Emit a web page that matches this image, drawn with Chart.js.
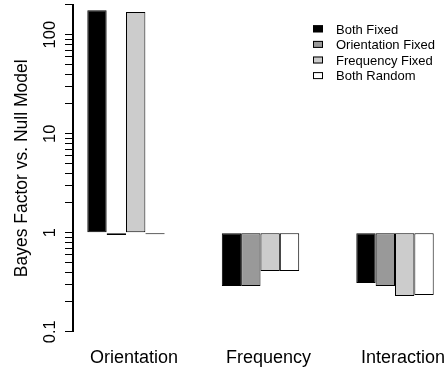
<!DOCTYPE html>
<html>
<head>
<meta charset="utf-8">
<script src="https://cdn.jsdelivr.net/npm/chart.js@4.4.1/dist/chart.umd.min.js"></script>
<style>
  html, body { margin: 0; padding: 0; background: #fff; }
  #wrap { width: 444px; height: 371px; }
</style>
</head>
<body>
<div id="wrap"><canvas id="bfChart"></canvas></div>
<script>
const categories = ['Orientation', 'Frequency', 'Interaction'];
const seriesNames = ['Both Fixed', 'Orientation Fixed', 'Frequency Fixed', 'Both Random'];
const bothFixed = [177, 0.29, 0.31];
const orientationFixed = [0.95, 0.29, 0.29];
const frequencyFixed = [170, 0.41, 0.23];
const bothRandom = [0.967, 0.41, 0.235];
const yTickLabels = [0.1, 1, 10, 100];
const seriesFills = ['#000000', '#999999', '#cccccc', '#ffffff'];

const FONT = "'Liberation Sans', Arial, Helvetica, sans-serif";
Chart.defaults.font.family = FONT;
Chart.defaults.color = '#000';

// minor + major log ticks: 1..9 in each decade, up to the axis top
const yMax = 200;
const yTicks = [];
[0.1, 1, 10, 100].forEach(d => {
  for (let k = 1; k <= 9; k++) {
    const v = +(d * k).toPrecision(3);
    if (v <= yMax) yTicks.push(v);
  }
});

// rotated y labels and the key in the top right corner
const axisText = {
  id: 'axisText',
  afterDraw(chart) {
    const { ctx, scales: { y } } = chart;
    ctx.save();
    ctx.fillStyle = '#000';
    ctx.font = `16.5px ${FONT}`;
    ctx.textAlign = 'center';
    ctx.textBaseline = 'alphabetic';
    yTickLabels.forEach(v => {
      ctx.save();
      ctx.translate(55, y.getPixelForValue(v));
      ctx.rotate(-Math.PI / 2);
      ctx.fillText(String(v), 0, 0);
      ctx.restore();
    });

    ctx.font = `13px ${FONT}`;
    ctx.textAlign = 'left';
    ctx.textBaseline = 'middle';
    chart.data.datasets.forEach((ds, i) => {
      const cy = 28.8 + i * 15.6;
      ctx.fillStyle = ds.backgroundColor;
      ctx.fillRect(313, cy - 3.5, 10, 7);
      ctx.strokeStyle = '#000';
      ctx.lineWidth = 1;
      ctx.strokeRect(313.5, cy - 3, 9, 6);
      ctx.fillStyle = '#000';
      ctx.fillText(ds.label, 336, cy + 1.2);
    });
    ctx.restore();
  }
};

const seriesValues = [bothFixed, orientationFixed, frequencyFixed, bothRandom];
const datasets = seriesNames.map((name, i) => ({
  label: name,
  data: seriesValues[i].map((v, j) => ({ x: j + 1, y: v })),
  backgroundColor: seriesFills[i],
  borderColor: '#000',
  borderWidth: 1,
  borderSkipped: false,
  base: 1,
  barPercentage: 1,
  categoryPercentage: 0.5755
}));

new Chart(document.getElementById('bfChart'), {
  type: 'bar',
  data: { datasets },
  options: {
    responsive: true,
    maintainAspectRatio: false,
    animation: false,
    layout: { padding: { top: 4.9, left: 0, right: 0, bottom: 0 } },
    plugins: { legend: { display: false }, tooltip: { enabled: false } },
    scales: {
      x: {
        type: 'linear',
        min: 0.6059,
        max: 3.3643,
        offset: false,
        grid: { display: false, drawTicks: false },
        border: { display: false },
        afterBuildTicks: s => { s.ticks = categories.map((c, i) => ({ value: i + 1 })); },
        afterFit: s => { s.height = 39.3; s.paddingLeft = 0; s.paddingRight = 0; },
        ticks: {
          callback: (v, i) => categories[i],
          font: { size: 18 },
          padding: 15.3,
          labelOffset: 8,
          maxRotation: 0,
          autoSkip: false,
          color: '#000'
        }
      },
      y: {
        type: 'logarithmic',
        min: 0.1,
        max: yMax,
        afterBuildTicks: s => { s.ticks = yTicks.map(v => ({ value: v })); },
        afterFit: s => { s.width = 73; },
        grid: { drawOnChartArea: false, drawTicks: true, tickLength: 8, color: '#000', lineWidth: 1 },
        border: { display: true, color: '#000', width: 2 },
        ticks: { display: false },
        title: {
          display: true,
          text: 'Bayes Factor vs. Null Model',
          font: { size: 17.5 },
          padding: { top: 12, bottom: 0 },
          color: '#000'
        }
      }
    }
  },
  plugins: [axisText]
});
</script>
</body>
</html>
